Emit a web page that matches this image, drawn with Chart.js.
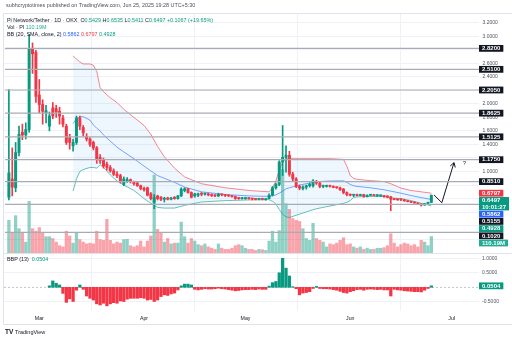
<!DOCTYPE html>
<html>
<head>
<meta charset="utf-8">
<title>Pi Network/Tether 1D</title>
<script src="https://cdn.jsdelivr.net/npm/chart.js@4.4.1/dist/chart.umd.min.js"></script>
<style>
  body { margin: 0; background: #fff; }
  #wrap { position: relative; width: 512px; height: 340px; overflow: hidden; }
  canvas { position: absolute; left: 0; }
  #mainChart { top: 0; }
  #bbpChart { top: 253px; }
</style>
</head>
<body>
<div id="wrap">
  <canvas id="mainChart" width="512" height="253"></canvas>
  <canvas id="bbpChart" width="512" height="87"></canvas>
</div>
<script>
// daily candles, Feb 20 -> Jun 25
var firstDay = 'Feb 20';
var opens = [
  0.62, 0.89, 0.76, 1.28, 1.58, 1.54, 1.62, 2.82, 2.76,
  2.13, 1.99, 1.87, 1.67, 1.94, 1.93, 1.89, 1.79, 1.67, 1.50, 1.38, 1.43, 1.79, 1.65, 1.52, 1.48,
  1.43, 1.35, 1.21, 1.18, 1.11, 1.06, 1.01, 0.96, 0.94, 0.81, 0.86, 0.88, 0.85, 0.83, 0.79,
  0.75, 0.76, 0.67, 0.545, 0.64, 0.62, 0.59, 0.61, 0.59, 0.62, 0.60, 0.64, 0.72, 0.745, 0.69,
  0.64, 0.65, 0.68, 0.665, 0.67, 0.655, 0.645, 0.64, 0.665, 0.655, 0.645, 0.64, 0.63, 0.61, 0.60,
  0.60, 0.61, 0.60, 0.595, 0.59, 0.60, 0.585, 0.60, 0.65, 0.76, 0.81, 1.14, 1.21, 1.24, 0.96, 0.89,
  0.78, 0.75, 0.77, 0.79, 0.79, 0.85, 0.83, 0.78, 0.78, 0.79, 0.78, 0.765, 0.76, 0.74, 0.69,
  0.66, 0.65, 0.655, 0.645, 0.66, 0.63, 0.65, 0.655, 0.645, 0.64, 0.645, 0.63, 0.625, 0.59, 0.585,
  0.59, 0.58, 0.565, 0.555, 0.545, 0.535, 0.52, 0.505, 0.525, 0.5429
];
var highs = [
  2.21, 1.35, 1.43, 1.67, 1.70, 1.72, 3.02, 2.90, 2.79,
  2.36, 2.06, 1.98, 1.88, 2.02, 1.98, 1.95, 1.83, 1.70, 1.55, 1.48, 1.82, 1.82, 1.68, 1.56, 1.50,
  1.45, 1.37, 1.25, 1.20, 1.14, 1.09, 1.04, 1.00, 0.96, 0.92, 0.91, 0.89, 0.86, 0.84, 0.80,
  0.77, 0.77, 0.69, 0.66, 0.65, 0.63, 0.62, 0.62, 0.62, 0.63, 0.65, 0.76, 0.76, 0.75, 0.70,
  0.68, 0.68, 0.69, 0.68, 0.68, 0.67, 0.66, 0.68, 0.67, 0.66, 0.65, 0.645, 0.64, 0.62, 0.62,
  0.62, 0.615, 0.605, 0.60, 0.605, 0.605, 0.60, 0.67, 0.78, 0.83, 1.16, 1.68, 1.38, 1.30, 0.99, 0.91,
  0.80, 0.79, 0.80, 0.83, 0.88, 0.87, 0.84, 0.80, 0.80, 0.80, 0.79, 0.775, 0.77, 0.75, 0.70,
  0.67, 0.66, 0.665, 0.665, 0.665, 0.655, 0.66, 0.66, 0.655, 0.655, 0.65, 0.64, 0.635, 0.60, 0.60,
  0.60, 0.59, 0.57, 0.56, 0.55, 0.54, 0.525, 0.53, 0.55, 0.6535
];
var lows = [
  0.58, 0.64, 0.70, 1.23, 1.47, 1.48, 1.58, 2.45, 2.02,
  1.87, 1.70, 1.72, 1.60, 1.78, 1.80, 1.70, 1.66, 1.40, 1.33, 1.30, 1.40, 1.62, 1.52, 1.45, 1.37,
  1.32, 1.12, 1.12, 1.05, 1.02, 0.99, 0.94, 0.91, 0.83, 0.79, 0.84, 0.83, 0.80, 0.78, 0.73,
  0.71, 0.64, 0.58, 0.45, 0.58, 0.57, 0.55, 0.58, 0.58, 0.59, 0.59, 0.63, 0.70, 0.68, 0.61,
  0.62, 0.63, 0.64, 0.65, 0.64, 0.63, 0.63, 0.63, 0.64, 0.63, 0.63, 0.62, 0.59, 0.59, 0.59,
  0.59, 0.59, 0.58, 0.58, 0.58, 0.58, 0.575, 0.60, 0.64, 0.74, 0.79, 0.94, 0.99, 0.93, 0.86, 0.76,
  0.73, 0.73, 0.74, 0.77, 0.77, 0.81, 0.76, 0.76, 0.77, 0.77, 0.76, 0.75, 0.72, 0.67, 0.64,
  0.64, 0.63, 0.64, 0.64, 0.62, 0.625, 0.64, 0.64, 0.63, 0.63, 0.62, 0.61, 0.42, 0.58, 0.575,
  0.57, 0.56, 0.55, 0.54, 0.53, 0.515, 0.49, 0.50, 0.52, 0.5411
];
var closes = [
  0.98, 0.77, 1.28, 1.55, 1.54, 1.62, 2.82, 2.74, 2.11,
  1.99, 1.89, 1.90, 1.82, 1.82, 1.88, 1.82, 1.70, 1.43, 1.43, 1.43, 1.79, 1.67, 1.57, 1.48, 1.40,
  1.35, 1.18, 1.16, 1.08, 1.06, 1.01, 0.96, 0.94, 0.85, 0.89, 0.88, 0.85, 0.82, 0.79, 0.75,
  0.73, 0.65, 0.60, 0.617, 0.60, 0.59, 0.60, 0.59, 0.61, 0.60, 0.64, 0.74, 0.745, 0.69, 0.62,
  0.67, 0.67, 0.665, 0.67, 0.655, 0.645, 0.64, 0.665, 0.655, 0.645, 0.64, 0.63, 0.60, 0.60, 0.61,
  0.61, 0.60, 0.595, 0.59, 0.60, 0.59, 0.592, 0.65, 0.76, 0.81, 1.14, 1.21, 1.24, 0.96, 0.89, 0.78,
  0.755, 0.77, 0.79, 0.81, 0.86, 0.83, 0.78, 0.79, 0.79, 0.78, 0.765, 0.76, 0.73, 0.69, 0.66,
  0.65, 0.655, 0.645, 0.66, 0.63, 0.65, 0.655, 0.645, 0.65, 0.645, 0.625, 0.625, 0.59, 0.585, 0.58,
  0.58, 0.565, 0.555, 0.545, 0.535, 0.52, 0.505, 0.525, 0.543, 0.6497
];
// volume in millions of PI
var volumes = [
  219, 134, 250, 163, 134, 73, 345, 163, 146,
  170, 134, 109, 109, 97, 73, 49, 41, 146, 114, 66, 134, 90, 73, 61, 66,
  61, 146, 90, 85, 226, 85, 61, 73, 66, 90, 92, 49, 41, 49, 80,
  41, 80, 114, 522, 158, 134, 73, 97, 61, 66, 66, 207, 109, 66, 97,
  80, 56, 49, 61, 41, 32, 24, 61, 32, 24, 24, 32, 49, 56, 49,
  32, 24, 24, 17, 24, 22, 17, 80, 146, 73, 150, 560, 330, 292, 231, 219,
  211, 163, 97, 85, 199, 97, 85, 73, 41, 61, 56, 66, 85, 102, 56,
  61, 41, 32, 41, 24, 32, 24, 24, 32, 32, 36, 49, 129, 66, 41,
  56, 66, 61, 49, 56, 41, 85, 73, 49, 110.19
];

// Bollinger bands (20, SMA, 2) read at these dates
var bbDates = ['Mar 11', 'Mar 12', 'Mar 13', 'Mar 14', 'Mar 16', 'Mar 17', 'Mar 18', 'Mar 19', 'Mar 20',
  'Mar 22', 'Mar 24', 'Mar 26', 'Mar 29', 'Apr 1', 'Apr 3', 'Apr 5', 'Apr 7', 'Apr 10', 'Apr 13',
  'Apr 18', 'Apr 25', 'May 2', 'May 8', 'May 9', 'May 10', 'May 11', 'May 12', 'May 13', 'May 14',
  'May 17', 'May 20', 'May 22', 'May 26', 'May 30', 'May 31', 'Jun 1', 'Jun 2', 'Jun 3', 'Jun 7',
  'Jun 11', 'Jun 13', 'Jun 16', 'Jun 19', 'Jun 22', 'Jun 25'];
var bbUpper = [2.71, 2.66, 2.62, 2.59, 2.59, 2.57, 2.48, 2.24, 2.18, 2.09, 2.02, 1.92, 1.80, 1.68, 1.55,
  1.37, 1.22, 1.05, 0.92, 0.82, 0.76, 0.72, 0.70, 0.76, 0.86, 1.02, 1.14, 1.19, 1.19, 1.19, 1.19, 1.19,
  1.19, 1.18, 1.08, 0.94, 0.90, 0.885, 0.865, 0.852, 0.82, 0.755, 0.72, 0.70, 0.6797];
var bbBasis = [1.71, 1.78, 1.81, 1.81, 1.76, 1.69, 1.64, 1.60, 1.54, 1.45, 1.36, 1.29, 1.19, 1.08, 1.01,
  0.94, 0.90, 0.84, 0.77, 0.70, 0.66, 0.64, 0.632, 0.64, 0.655, 0.68, 0.71, 0.745, 0.76, 0.80, 0.83, 0.85,
  0.86, 0.862, 0.84, 0.81, 0.79, 0.78, 0.76, 0.73, 0.71, 0.68, 0.645, 0.615, 0.5862];
var bbLower = [0.71, 0.89, 1.00, 1.03, 1.06, 1.06, 1.05, 1.10, 1.06, 0.95, 0.86, 0.80, 0.72, 0.60, 0.53,
  0.47, 0.46, 0.46, 0.50, 0.55, 0.57, 0.58, 0.585, 0.56, 0.52, 0.44, 0.37, 0.33, 0.32, 0.37, 0.42, 0.45,
  0.49, 0.53, 0.545, 0.57, 0.617, 0.625, 0.63, 0.632, 0.61, 0.60, 0.57, 0.53, 0.4928];

// Bull Bear Power (13), daily from Mar 4
var bbpStart = 'Mar 4';
var bbpValues = [
  0.05, 0.22, 0.14, 0.08, -0.21, -0.52, -0.40, -0.49, -0.10, 0.08, -0.07, -0.30, -0.38, -0.44,
  -0.57, -0.61, -0.55, -0.64, -0.57, -0.53, -0.55, -0.47, -0.49, -0.41, -0.38, -0.38, -0.38, -0.36,
  -0.38, -0.44, -0.42, -0.49, -0.44, -0.32, -0.26, -0.28, -0.23, -0.20, -0.09, 0.05, 0.11, 0.11, 0.08,
  -0.07, -0.09, -0.07, -0.05, -0.06, -0.06, -0.05, -0.03, -0.05, -0.06, -0.08, -0.10, -0.12, -0.11, -0.09,
  -0.08, -0.08, -0.07, -0.08, -0.06, -0.07, -0.07, 0.04, 0.16, 0.20, 0.50, 1.00, 0.66, 0.39, 0.02,
  -0.05, -0.26, -0.20, -0.18, -0.15, -0.04, 0.03, -0.04, -0.05, -0.05, -0.06, -0.08, -0.10, -0.14, -0.18, -0.20,
  -0.15, -0.12, -0.08, -0.07, -0.10, -0.07, -0.06, -0.07, -0.08, -0.07, -0.09, -0.09, -0.30, -0.07, -0.09,
  -0.10, -0.12, -0.13, -0.14, -0.15, -0.15, -0.16, -0.10, -0.04, 0.0504
];

// user drawn horizontal levels
var levels = [2.82, 2.51, 2.205, 1.8625, 1.5125, 1.175, 0.851, 0.5155, 0.102];
// projection arrow (days after Mar 1, price) and its "?" note
var arrowX = [116.8, 119.1, 122.7];
var arrowY = [0.653, 0.539, 1.131];
var noteX = 125.4, noteY = 1.12, noteText = '?';

var priceTicks = [3.2, 3.0, 2.6, 2.4, 2.0, 1.8, 1.6, 1.4, 1.0];
var priceGrid = [3.2, 3.0, 2.8, 2.6, 2.4, 2.2, 2.0, 1.8, 1.6, 1.4, 1.2, 1.0, 0.8, 0.6, 0.4, 0.2, 0];
var bbpTicks = [1, 0.5, -0.5];
var monthTicks = ['Mar 1', 'Apr 1', 'May 1', 'Jun 1', 'Jul 1'];
var monthNames = ['Mar', 'Apr', 'May', 'Jun', 'Jul'];

var headerText = 'subhcryptotimes published on TradingView.com, Jun 25, 2025 19:28 UTC+5:30';
var pairName = 'Pi Network/Tether \u00b7 1D \u00b7 OKX';
var countdown = '10:01:27';

var green = '#089981', red = '#f23645', blue = '#2962ff', ink = '#131722', teal = '#22ab94';
var axisInk = '#50535e', gridColor = '#eff1f6', frameColor = '#e0e3eb';
var fontFamily = '"Liberation Sans", Arial, sans-serif';
var textFont = '5.4px ' + fontFamily;
var axisFont = '5px ' + fontFamily;
var boxFont = 'bold 6px ' + fontFamily;

// axis bounds, in days after Mar 1
var xMin = -10.44, xMax = 130.1;

var monthStart = { Feb: -28, Mar: 0, Apr: 31, May: 61, Jun: 92, Jul: 122 };
function dayOf(label) {
  var p = label.split(' ');
  return monthStart[p[0]] + Number(p[1]) - 1;
}
function last(arr) { return arr[arr.length - 1]; }

var start = dayOf(firstDay);
var candleX = closes.map(function(c, i) { return start + i; });
var upColors = closes.map(function(c, i) { return c >= opens[i] ? green : red; });
var volColors = closes.map(function(c, i) { return c >= opens[i] ? 'rgba(8,153,129,0.45)' : 'rgba(242,54,69,0.45)'; });

function drawRuns(ctx, x, y, runs) {
  runs.forEach(function(r) {
    ctx.fillStyle = r[1];
    ctx.fillText(r[0], x, y);
    x += ctx.measureText(r[0]).width;
  });
}

// price labels on the right scale, pushed down when they overlap
function drawBoxes(ctx, boxes, x0) {
  ctx.font = boxFont;
  boxes.sort(function(a, b) { return a.at - b.at; });
  var bottom = -1e9;
  boxes.forEach(function(b) {
    var h = 6.6 * b.lines.length + 0.2;
    var top = Math.max(b.at - h / 2, bottom);
    var w = Math.max.apply(null, b.lines.map(function(t) { return ctx.measureText(t).width; })) + 6;
    ctx.fillStyle = b.bg;
    ctx.fillRect(x0, top, w, h);
    ctx.fillStyle = '#fff';
    b.lines.forEach(function(t, i) { ctx.fillText(t, x0 + 3, top + 3.5 + i * 6.6); });
    bottom = top + h + 0.4;
  });
}

function monthTickBuilder(scale) {
  scale.ticks = monthTicks.map(function(m) { return { value: dayOf(m) }; });
}

var levelsPlugin = {
  id: 'levels',
  afterDatasetsDraw: function(chart) {
    var ctx = chart.ctx, area = chart.chartArea, ys = chart.scales.y;
    ctx.save();
    ctx.strokeStyle = '#a8abb3';
    ctx.lineWidth = 1.2;
    levels.forEach(function(v) {
      var py = ys.getPixelForValue(v);
      ctx.beginPath();
      ctx.moveTo(area.left + 1, py);
      ctx.lineTo(area.right, py);
      ctx.stroke();
    });

    // arrow head + note
    var meta = chart.getDatasetMeta(chart.data.datasets.length - 1);
    var a = meta.data[meta.data.length - 2], b = meta.data[meta.data.length - 1];
    var ang = Math.atan2(b.y - a.y, b.x - a.x);
    ctx.strokeStyle = ink;
    ctx.lineWidth = 1;
    ctx.beginPath();
    [-1, 1].forEach(function(s) {
      ctx.moveTo(b.x, b.y);
      ctx.lineTo(b.x - 5 * Math.cos(ang + s * 0.55), b.y - 5 * Math.sin(ang + s * 0.55));
    });
    ctx.stroke();
    ctx.font = textFont;
    ctx.fillStyle = ink;
    ctx.textBaseline = 'middle';
    ctx.fillText(noteText, chart.scales.x.getPixelForValue(noteX), ys.getPixelForValue(noteY));
    ctx.restore();
  }
};

var mainTextPlugin = {
  id: 'mainText',
  afterDraw: function(chart) {
    var ctx = chart.ctx, ys = chart.scales.y, vs = chart.scales.yVol;
    var x0 = chart.chartArea.right;
    var n = closes.length - 1;
    var chg = closes[n] - closes[n - 1];
    ctx.save();
    ctx.textBaseline = 'middle';
    ctx.textAlign = 'left';

    // frame
    ctx.strokeStyle = frameColor;
    ctx.lineWidth = 1;
    ctx.beginPath();
    ctx.moveTo(3.5, 13.5); ctx.lineTo(512, 13.5);
    ctx.moveTo(3.5, 13.5); ctx.lineTo(3.5, 253);
    ctx.stroke();

    ctx.font = textFont;
    drawRuns(ctx, 6, 6, [[headerText, '#4a4e59']]);
    drawRuns(ctx, 7, 20.7, [[pairName, ink], ['  O', ink], [opens[n].toFixed(4), green],
      [' H', ink], [highs[n].toFixed(4), green], [' L', ink], [lows[n].toFixed(4), green],
      [' C', ink], [closes[n].toFixed(4), green],
      [' +' + chg.toFixed(4) + ' (+' + (chg / closes[n - 1] * 100).toFixed(2) + '%)', green]]);
    drawRuns(ctx, 7, 27.7, [['Vol \u00b7 PI', ink], [' ' + volumes[n].toFixed(2) + 'M', teal]]);
    drawRuns(ctx, 7, 34.3, [['BB (20, SMA, close, 2)', ink], [' ' + last(bbBasis).toFixed(4), blue],
      [' ' + last(bbUpper).toFixed(4), red], [' ' + last(bbLower).toFixed(4), green]]);

    // right scale
    ctx.font = axisFont;
    ctx.fillStyle = axisInk;
    priceTicks.forEach(function(v) { ctx.fillText(v.toFixed(4), x0 + 3.5, ys.getPixelForValue(v)); });

    var boxes = levels.map(function(v) {
      return { at: ys.getPixelForValue(v), lines: [v.toFixed(4)], bg: ink };
    });
    boxes.push({ at: ys.getPixelForValue(last(bbUpper)), lines: [last(bbUpper).toFixed(4)], bg: red });
    boxes.push({ at: ys.getPixelForValue(closes[n]), lines: [closes[n].toFixed(4), countdown], bg: green });
    boxes.push({ at: ys.getPixelForValue(last(bbBasis)), lines: [last(bbBasis).toFixed(4)], bg: blue });
    boxes.push({ at: ys.getPixelForValue(last(bbLower)), lines: [last(bbLower).toFixed(4)], bg: green });
    boxes.push({ at: vs.getPixelForValue(volumes[n]), lines: [volumes[n].toFixed(2) + 'M'], bg: teal });
    drawBoxes(ctx, boxes, x0);
    ctx.restore();
  }
};

new Chart(document.getElementById('mainChart'), {
  type: 'bar',
  data: {
    datasets: [
      {
        label: 'Volume', yAxisID: 'yVol', order: 9, grouped: false, barThickness: 2.6,
        data: volumes.map(function(v, i) { return { x: candleX[i], y: v }; }),
        backgroundColor: volColors
      },
      {
        type: 'line', label: 'BB upper', order: 5, fill: '+2', backgroundColor: 'rgba(33,150,243,0.08)',
        data: bbDates.map(function(d, i) { return { x: dayOf(d), y: bbUpper[i] }; }),
        borderColor: 'rgba(242,54,69,0.75)', borderWidth: 0.8, pointRadius: 0
      },
      {
        type: 'line', label: 'BB basis', order: 5, fill: false,
        data: bbDates.map(function(d, i) { return { x: dayOf(d), y: bbBasis[i] }; }),
        borderColor: 'rgba(41,98,255,0.75)', borderWidth: 0.8, pointRadius: 0
      },
      {
        type: 'line', label: 'BB lower', order: 5, fill: false,
        data: bbDates.map(function(d, i) { return { x: dayOf(d), y: bbLower[i] }; }),
        borderColor: 'rgba(8,153,129,0.75)', borderWidth: 0.8, pointRadius: 0
      },
      {
        label: 'Wick', order: 2, grouped: false, barThickness: 1,
        data: candleX.map(function(x, i) { return { x: x, y: [lows[i], highs[i]] }; }),
        backgroundColor: upColors
      },
      {
        label: 'Body', order: 1, grouped: false, barThickness: 2.3, minBarLength: 1,
        data: candleX.map(function(x, i) { return { x: x, y: [opens[i], closes[i]] }; }),
        backgroundColor: upColors
      },
      {
        type: 'line', label: 'Arrow', order: 0, fill: false,
        data: arrowX.map(function(x, i) { return { x: x, y: arrowY[i] }; }),
        borderColor: ink, borderWidth: 1, pointRadius: 0
      }
    ]
  },
  options: {
    responsive: false,
    animation: false,
    events: [],
    layout: { padding: { left: 4, right: 33, top: 14, bottom: 0 } },
    plugins: { legend: { display: false }, tooltip: { enabled: false } },
    scales: {
      x: {
        type: 'linear', min: xMin, max: xMax, offset: false,
        afterBuildTicks: monthTickBuilder,
        afterFit: function(s) { s.height = 0; },
        ticks: { display: false },
        grid: { color: gridColor, drawTicks: false },
        border: { display: false }
      },
      y: {
        position: 'right', min: -0.204, max: 3.328,
        afterBuildTicks: function(s) { s.ticks = priceGrid.map(function(v) { return { value: v }; }); },
        afterFit: function(s) { s.width = 0; },
        ticks: { display: false },
        grid: { color: gridColor, drawTicks: false },
        border: { display: false }
      },
      yVol: { display: false, min: 0, max: 1600 }
    }
  },
  plugins: [levelsPlugin, mainTextPlugin]
});

var bbpPlugin = {
  id: 'bbpText',
  beforeDatasetsDraw: function(chart) {
    var ctx = chart.ctx, area = chart.chartArea, py = chart.scales.y.getPixelForValue(0);
    ctx.save();
    ctx.strokeStyle = '#b2b5be';
    ctx.lineWidth = 0.8;
    ctx.setLineDash([2, 2]);
    ctx.beginPath();
    ctx.moveTo(area.left, py);
    ctx.lineTo(area.right, py);
    ctx.stroke();
    ctx.restore();
  },
  afterDraw: function(chart) {
    var ctx = chart.ctx, ys = chart.scales.y, x0 = chart.chartArea.right;
    var v = last(bbpValues);
    ctx.save();
    ctx.strokeStyle = frameColor;
    ctx.lineWidth = 1;
    ctx.beginPath();
    ctx.moveTo(3.5, 0.5); ctx.lineTo(512, 0.5);
    ctx.moveTo(3.5, 0.5); ctx.lineTo(3.5, 71.5);
    ctx.moveTo(3.5, 71.5); ctx.lineTo(512, 71.5);
    ctx.stroke();

    ctx.textBaseline = 'middle';
    ctx.textAlign = 'left';
    ctx.font = textFont;
    drawRuns(ctx, 7, 6.5, [['BBP (13)', ink], ['  ' + v.toFixed(4), green]]);
    ctx.font = axisFont;
    ctx.fillStyle = axisInk;
    bbpTicks.forEach(function(t) { ctx.fillText(t.toFixed(4), x0 + 3, ys.getPixelForValue(t)); });
    drawBoxes(ctx, [{ at: ys.getPixelForValue(v), lines: [v.toFixed(4)], bg: green }], x0);

    // footer logo
    ctx.fillStyle = ink;
    ctx.font = 'bold 6.5px ' + fontFamily;
    ctx.fillText('TV', 5, 79.5);
    ctx.font = '5.5px ' + fontFamily;
    ctx.fillText('TradingView', 15, 79.5);
    ctx.restore();
  }
};

new Chart(document.getElementById('bbpChart'), {
  type: 'bar',
  data: {
    datasets: [{
      label: 'BBP', barThickness: 2.6,
      data: bbpValues.map(function(v, i) { return { x: dayOf(bbpStart) + i, y: v }; }),
      backgroundColor: bbpValues.map(function(v) { return v >= 0 ? green : red; })
    }]
  },
  options: {
    responsive: false,
    animation: false,
    events: [],
    layout: { padding: { left: 4, right: 33, top: 1, bottom: 0 } },
    plugins: { legend: { display: false }, tooltip: { enabled: false } },
    scales: {
      x: {
        type: 'linear', min: xMin, max: xMax, offset: false,
        afterBuildTicks: monthTickBuilder,
        afterFit: function(s) { s.height = 29; },
        ticks: {
          color: ink, padding: 4, maxRotation: 0, autoSkip: false,
          font: { family: fontFamily, size: 5.2 },
          callback: function(value, index) { return monthNames[index]; }
        },
        grid: { color: gridColor, drawTicks: false },
        border: { display: false }
      },
      y: {
        position: 'right', min: -0.817, max: 1.148,
        afterBuildTicks: function(s) { s.ticks = bbpTicks.map(function(v) { return { value: v }; }); },
        afterFit: function(s) { s.width = 0; },
        ticks: { display: false },
        grid: { color: gridColor, drawTicks: false },
        border: { display: false }
      }
    }
  },
  plugins: [bbpPlugin]
});
</script>
</body>
</html>
